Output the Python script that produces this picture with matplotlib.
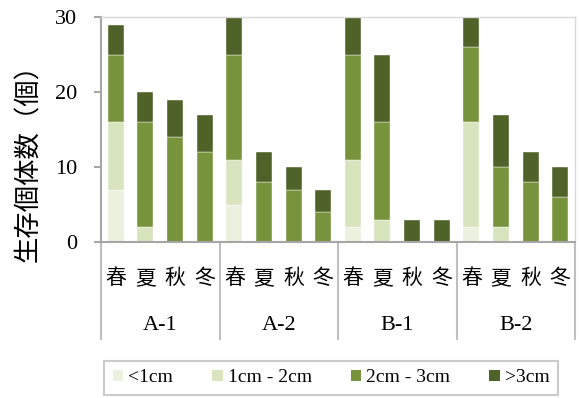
import numpy as np
import matplotlib.pyplot as plt
from matplotlib.lines import Line2D
from matplotlib.patches import Patch

plt.rcParams['font.family'] = ['Liberation Serif', 'Noto Sans CJK JP']

groups = ["A-1", "A-2", "B-1", "B-2"]
seasons = ["春", "夏", "秋", "冬"]
sizes = ["<1cm", "1cm - 2cm", "2cm - 3cm", ">3cm"]
colors = ["#EBF1DE", "#D7E4BD", "#77933C", "#4F6228"]

# counts per size class, 16 bars = 4 sites x 4 seasons
under1 = [7, 0, 0, 0, 5, 0, 0, 0, 2, 0, 0, 0, 2, 0, 0, 0]
one_two = [9, 2, 0, 0, 6, 0, 0, 0, 9, 3, 0, 0, 14, 2, 0, 0]
two_three = [9, 14, 14, 12, 14, 8, 7, 4, 14, 13, 0, 0, 10, 8, 8, 6]
over3 = [4, 4, 5, 5, 6, 4, 3, 3, 6, 9, 3, 3, 6, 7, 4, 4]

series = [under1, one_two, two_three, over3]

fig = plt.figure(figsize=(5.79, 3.98), dpi=100)
ax = fig.add_axes([101 / 579, 1 - 242 / 398, 474 / 579, 225 / 398])

x = np.arange(16)
bottom = np.zeros(16)
for vals, c in zip(series, colors):
    ax.bar(x, vals, 0.54, bottom=bottom, color=c, edgecolor="white", linewidth=0.3)
    bottom += np.array(vals)

ax.set_xlim(-0.5, 15.5)
ax.set_ylim(0, 30)
ax.set_yticks([0, 10, 20, 30])
ax.tick_params(axis="y", labelsize=16, length=5, color="#A6A6A6", width=1.5, pad=12)
ax.set_xticks([])
ax.set_ylabel("生存個体数（個）", family=['Noto Sans CJK JP'], fontsize=19)
ax.yaxis.set_label_coords(-0.125, 0.38)

for s in ["top", "right"]:
    ax.spines[s].set_color("#D9D9D9")
    ax.spines[s].set_linewidth(1)
for s in ["left", "bottom"]:
    ax.spines[s].set_color("#A6A6A6")
    ax.spines[s].set_linewidth(1.5)

# season labels and site labels under the axis
trans = ax.get_xaxis_transform()
for i in range(16):
    ax.text(x[i], -0.16, seasons[i % 4], transform=trans, ha="center", va="center",
            fontsize=15, family=['Noto Sans CJK JP'])
for g, name in enumerate(groups):
    ax.text(g * 4 + 1.5, -0.37, name, transform=trans, ha="center", va="center", fontsize=16)

# separators between sites
for b in [-0.5, 3.5, 7.5, 11.5, 15.5]:
    ax.add_line(Line2D([b, b], [0, -0.43], transform=trans, color="#BFBFBF",
                       linewidth=1.5, clip_on=False))

handles = [Patch(facecolor=c, edgecolor="none") for c in colors]
leg = fig.legend(handles, sizes, loc="center", bbox_to_anchor=(331 / 579, 1 - 378 / 398),
                 ncol=4, fontsize=14, frameon=True, fancybox=False, handlelength=0.55,
                 handleheight=0.55, handletextpad=0.25, columnspacing=2.0, borderpad=0.45)
leg.get_frame().set_edgecolor("#BFBFBF")
leg.get_frame().set_linewidth(1.5)

fig.savefig("out.png", dpi=100)
